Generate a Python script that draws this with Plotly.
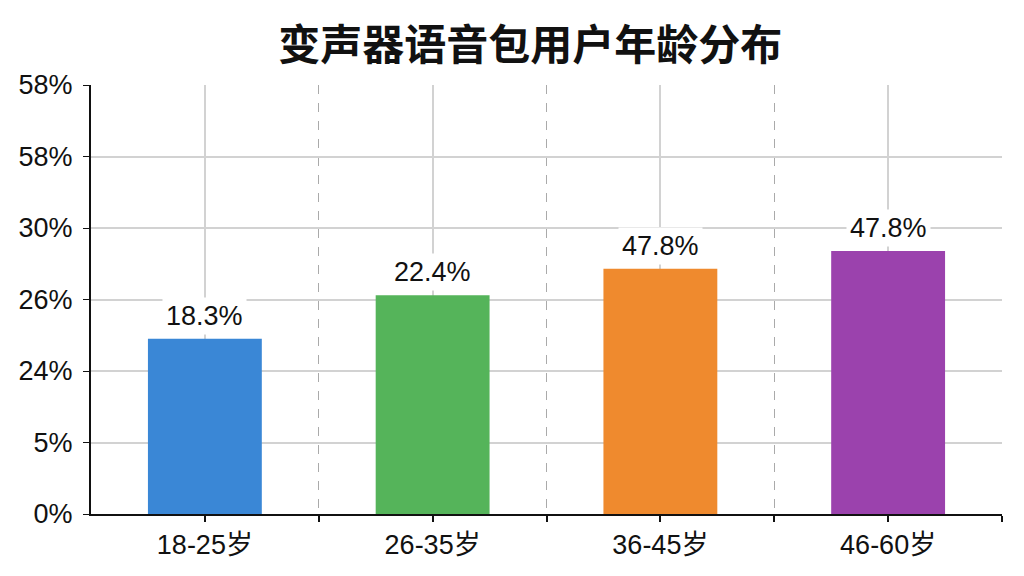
import plotly.graph_objects as go

# categories and values
age_groups = ["18-25岁", "26-35岁", "36-45岁", "46-60岁"]
bar_heights = [2.45, 3.06, 3.43, 3.68]          # in gridline steps
bar_labels = ["18.3%", "22.4%", "47.8%", "47.8%"]
bar_colors = ["#3a87d6", "#55b45a", "#ef8a2e", "#9b42ad"]
y_tick_pos = [0, 1, 2, 3, 4, 5, 6]
y_tick_text = ["0%", "5%", "24%", "26%", "30%", "58%", "58%"]

xs = list(range(len(age_groups)))

fig = go.Figure()
fig.add_trace(go.Bar(
    x=xs, y=bar_heights, width=0.5,
    marker=dict(color=bar_colors, line=dict(width=0)),
    hoverinfo="skip", showlegend=False,
))

for x, h, lab in zip(xs, bar_heights, bar_labels):
    fig.add_annotation(x=x, y=h, yshift=23, text=lab, showarrow=False,
                       font=dict(size=27, color="#111",
                                 family="Liberation Sans, Arial"),
                       bgcolor="white", borderpad=3)

# the page body has an 8px margin, so the figure is sized to fit the window
fig.update_layout(
    width=1016, height=568,
    margin=dict(l=83, r=22, t=77, b=62, autoexpand=False),
    paper_bgcolor="white", plot_bgcolor="white",
    font=dict(family="Noto Sans CJK SC, Arial, sans-serif", color="#111"),
    title=dict(text="<b>变声器语音包用户年龄分布</b>", x=0.514, xanchor="center",
               y=0.935, yanchor="middle",
               font=dict(size=42, color="#111", family="Noto Sans CJK SC")),
    bargap=0.5,
)
fig.update_xaxes(
    range=[-0.5, 3.5], tickvals=xs, ticktext=age_groups, automargin=False,
    tickfont=dict(size=27, family="Liberation Sans, Noto Sans CJK SC"),
    showgrid=True, gridcolor="#d2d2d2", gridwidth=1.5,
    showline=True, linecolor="#111", linewidth=2,
    ticks="outside", ticklen=6, tickcolor="#111", tickwidth=1.5,
    minor=dict(tickvals=[0.5, 1.5, 2.5, 3.5], showgrid=True, gridcolor="#aaaaaa",
               griddash="dash", gridwidth=1.2, ticks="outside", ticklen=6,
               tickcolor="#111"),
    zeroline=False,
)
fig.update_yaxes(
    range=[0, 6], tickvals=y_tick_pos, ticktext=y_tick_text, automargin=False,
    tickfont=dict(size=27, family="Liberation Sans, Arial"),
    ticklabelstandoff=5,
    showgrid=True, gridcolor="#d2d2d2", gridwidth=1.5,
    showline=True, linecolor="#111", linewidth=2,
    ticks="outside", ticklen=6, tickcolor="#111",
    zeroline=False,
)

fig.write_html("out.html")
